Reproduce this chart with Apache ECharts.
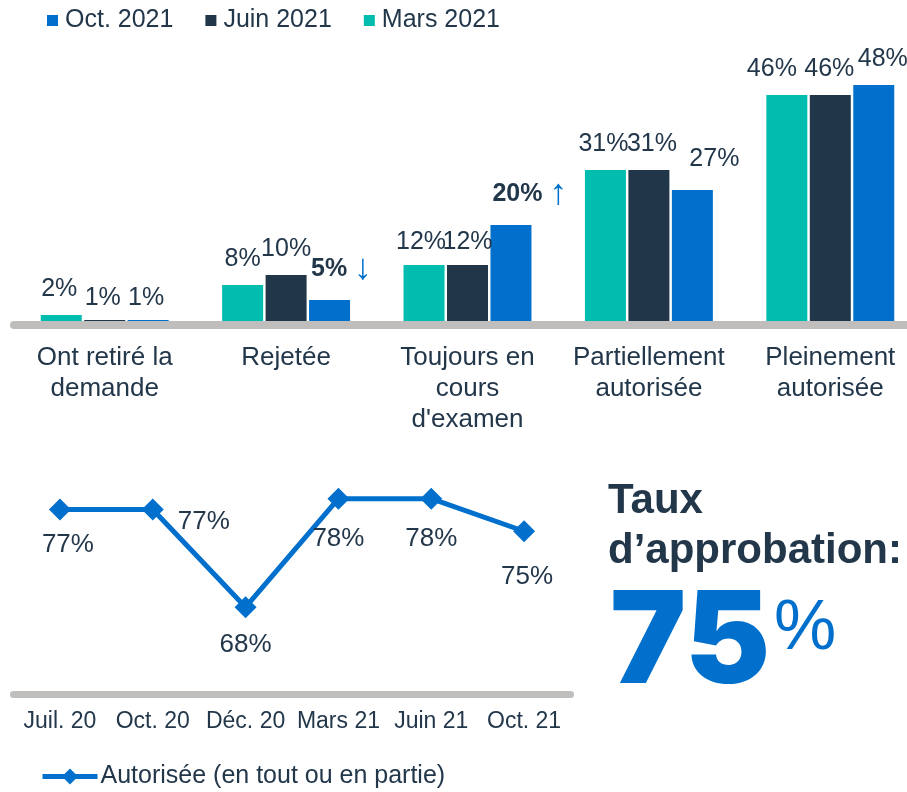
<!DOCTYPE html>
<html>
<head>
<meta charset="utf-8">
<script src="https://cdn.jsdelivr.net/npm/echarts@6/dist/echarts.min.js"></script>
<style>
html,body{margin:0;padding:0;background:#fff;overflow:hidden;width:907px;height:792px;}
#chart{width:921px;height:792px;}
</style>
</head>
<body>
<div id="chart"></div>
<script>
// ---- data ----
const categories = ['Ont retiré la\ndemande', 'Rejetée', 'Toujours en\ncours\nd\'examen', 'Partiellement\nautorisée', 'Pleinement\nautorisée'];
const seriesNames = ['Oct. 2021', 'Juin 2021', 'Mars 2021'];
const mars2021 = [2, 8, 12, 31, 46];
const juin2021 = [1, 10, 12, 31, 46];
const oct2021 = [1, 5, 20, 27, 48];
const octTrend = [null, 'down', 'up', null, null];

const periods = ['Juil. 20', 'Oct. 20', 'Déc. 20', 'Mars 21', 'Juin 21', 'Oct. 21'];
const approvalRate = [77, 77, 68, 78, 78, 75];
const lineName = 'Autorisée (en tout ou en partie)';
const headline = 'Taux\nd’approbation:';
const headlineValue = '75';

// ---- styles ----
const FONT = '"Liberation Sans", Arial, sans-serif';
const NAVY_TEXT = '#23374b';
const TEAL = '#00bdb0';
const NAVY = '#213649';
const BLUE = '#0070cc';
const GRAY = '#bfbebd';

const marsOffsets = [[-2, 0], [0, 0], [-3, 3], [-2, 0], [-15, 0]];
const juinOffsets = [[-2, 4], [0, 0], [0, 3], [3, 0], [-1, 0]];
const octOffsets = [[-2, 4], [12, 0], [19, 0], [22, -5], [9, 0]];
const lineLabelOffsets = [[8, 35], [51, 12], [0, 38], [0, 40], [0, 40], [3, 46]];

function barData(values, offsets, trend) {
  return values.map((v, i) => {
    const lab = { offset: offsets[i] };
    if (trend && trend[i]) {
      const arrow = trend[i] === 'down' ? '↓' : '↑';
      lab.formatter = '{b|' + v + '%} {a|' + arrow + '}';
    }
    return { value: v, label: lab };
  });
}

const baseLabel = {
  show: true,
  position: 'top',
  distance: 13,
  fontFamily: FONT,
  fontSize: 25,
  color: NAVY_TEXT,
  formatter: '{c}%',
  rich: {
    b: { fontFamily: FONT, fontSize: 25, fontWeight: 'bold', color: NAVY_TEXT },
    a: { fontFamily: FONT, fontSize: 36, color: BLUE }
  }
};

const chart = echarts.init(document.getElementById('chart'), null, { renderer: 'canvas' });

const option = {
  backgroundColor: '#ffffff',
  animation: false,
  legend: [{
    data: seriesNames,
    left: 47,
    top: 8,
    padding: 0,
    icon: 'rect',
    itemWidth: 11,
    itemHeight: 11,
    itemGap: 32,
    textStyle: { fontFamily: FONT, fontSize: 25, color: NAVY_TEXT, padding: [0, 0, 0, 2] }
  }, {
    data: [lineName],
    left: 40,
    top: 764,
    padding: 0,
    itemWidth: 55,
    itemHeight: 20,
    itemGap: 10,
    lineStyle: { width: 5 },
    textStyle: { fontFamily: FONT, fontSize: 25, color: NAVY_TEXT, padding: [0, 0, 0, -2] }
  }],
  grid: [
    { left: 14, right: 0, top: 75, height: 250, containLabel: false },
    { left: 13.5, width: 557, top: 477, height: 217, containLabel: false }
  ],
  xAxis: [{
    type: 'category',
    gridIndex: 0,
    data: categories,
    z: 5,
    axisLine: { lineStyle: { color: GRAY, width: 8 } },
    axisTick: { show: false },
    axisLabel: { fontFamily: FONT, fontSize: 26, color: NAVY_TEXT, lineHeight: 31, margin: 17, interval: 0 }
  }, {
    type: 'category',
    gridIndex: 1,
    data: periods,
    boundaryGap: true,
    axisLine: { lineStyle: { color: GRAY, width: 7 } },
    axisTick: { show: false },
    axisLabel: { fontFamily: FONT, fontSize: 23, color: NAVY_TEXT, margin: 16, interval: 0 }
  }],
  yAxis: [{
    type: 'value', gridIndex: 0, min: 0, max: 50, show: false, splitLine: { show: false }
  }, {
    type: 'value', gridIndex: 1, min: 60, max: 80, show: false, splitLine: { show: false }
  }],
  series: [{
    name: 'Mars 2021',
    type: 'bar',
    xAxisIndex: 0, yAxisIndex: 0,
    barWidth: 41,
    barGap: '6%',
    itemStyle: { color: TEAL },
    label: baseLabel,
    data: barData(mars2021, marsOffsets, null)
  }, {
    name: 'Juin 2021',
    type: 'bar',
    xAxisIndex: 0, yAxisIndex: 0,
    barWidth: 41,
    barGap: '6%',
    itemStyle: { color: NAVY },
    label: baseLabel,
    data: barData(juin2021, juinOffsets, null)
  }, {
    name: 'Oct. 2021',
    type: 'bar',
    xAxisIndex: 0, yAxisIndex: 0,
    barWidth: 41,
    barGap: '6%',
    itemStyle: { color: BLUE },
    label: baseLabel,
    data: barData(oct2021, octOffsets, octTrend)
  }, {
    name: lineName,
    type: 'line',
    xAxisIndex: 1, yAxisIndex: 1,
    symbol: 'diamond',
    symbolSize: 22,
    lineStyle: { color: BLUE, width: 5 },
    itemStyle: { color: BLUE },
    label: {
      show: true,
      position: 'inside',
      fontFamily: FONT,
      fontSize: 26,
      color: NAVY_TEXT,
      formatter: '{c}%'
    },
    data: approvalRate.map((v, i) => ({ value: v, label: { offset: lineLabelOffsets[i] } }))
  }],
  graphic: [{
    type: 'text',
    left: 608,
    top: 476,
    style: {
      text: headline,
      fontFamily: FONT,
      fontSize: 42,
      fontWeight: 'bold',
      lineHeight: 50,
      fill: NAVY_TEXT
    }
  }, {
    type: 'text',
    x: 610,
    y: 645,
    style: {
      text: headlineValue,
      fontFamily: 'Inter, "DejaVu Sans", sans-serif',
      fontSize: 128,
      fontWeight: 900,
      fill: BLUE,
      textVerticalAlign: 'middle',
      verticalAlign: 'middle'
    }
  }, {
    type: 'text',
    x: 774,
    y: 630,
    style: {
      text: '%',
      fontFamily: FONT,
      fontSize: 70,
      fill: BLUE,
      textVerticalAlign: 'middle',
      verticalAlign: 'middle'
    }
  }]
};

chart.setOption(option);
</script>
</body>
</html>
